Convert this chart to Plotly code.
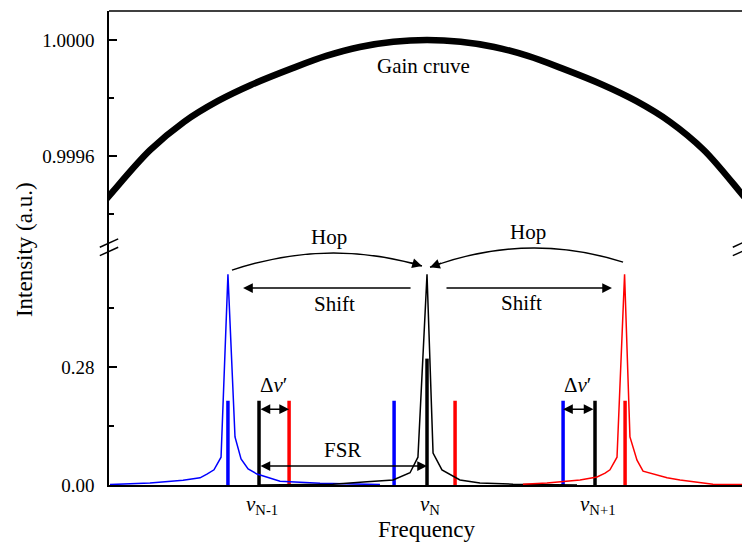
import plotly.graph_objects as go

# ---- data (frequency in units of the FSR, nu_N at 0) ----
gain_freq = [-1.95, -1.887, -1.649, -1.446, -1.244, -1.048, -0.8, -0.6, -0.4, -0.2, 0.0,
             0.2, 0.4, 0.6, 0.8, 1.048, 1.244, 1.446, 1.649, 1.887, 1.95]
gain_val = [0.999424, 0.999466, 0.999620, 0.999718, 0.999790, 0.999845, 0.999903, 0.999945,
            0.999976, 0.999994, 1.000000, 0.999994, 0.999976, 0.999945, 0.999903, 0.999845,
            0.999790, 0.999718, 0.999620, 0.999460, 0.999418]

blue_freq = [-1.887, -1.649, -1.452, -1.351, -1.310, -1.268, -1.226, -1.185, -1.143, -1.107,
             -1.065, -1.012, -0.875, -0.637, -0.280]
blue_val = [0.001, 0.005, 0.011, 0.017, 0.026, 0.036, 0.066, 0.500, 0.114, 0.062,
            0.038, 0.026, 0.009, 0.004, 0.001]

black_freq = [-1.006, -0.560, -0.357, -0.202, -0.101, -0.054, 0.000, 0.036, 0.089, 0.196,
              0.315, 0.512, 0.893]
black_val = [0.000, 0.002, 0.008, 0.012, 0.029, 0.066, 0.500, 0.076, 0.036, 0.012,
             0.005, 0.002, 0.000]

red_freq = [0.571, 0.714, 0.911, 1.012, 1.060, 1.089, 1.131, 1.176, 1.208, 1.250,
            1.286, 1.327, 1.429, 1.506, 1.702, 1.875]
red_val = [0.002, 0.005, 0.012, 0.019, 0.028, 0.036, 0.066, 0.500, 0.114, 0.059,
           0.033, 0.028, 0.017, 0.012, 0.002, 0.001]

# mode lines (frequency, height)
blue_mode_freq = [-1.185, -0.196, 0.810]
blue_mode_val = [0.20, 0.20, 0.20]
red_mode_freq = [-0.821, 0.167, 1.179]
red_mode_val = [0.20, 0.20, 0.20]
black_mode_freq = [-1.0, 0.0, 1.0]
black_mode_val = [0.20, 0.30, 0.20]
mode_labels = ["<i>ν</i><sub>N-1</sub>", "<i>ν</i><sub>N</sub>", "<i>ν</i><sub>N+1</sub>"]

low_ticks = [0.0, 0.28]
low_minor = [0.14, 0.42]
high_ticks = [0.9996, 1.0000]
high_minor = [0.9994, 0.9998]

FONT = "Liberation Serif, Times New Roman, Times, DejaVu Serif, serif"
BREAK = 0.502


def stems(xs, hs):
    px, py = [], []
    for x, h in zip(xs, hs):
        px += [x, x, None]
        py += [0, h, None]
    return px, py


fig = go.Figure()

for xs, hs, col in [(blue_mode_freq, blue_mode_val, "#0000FF"),
                    (red_mode_freq, red_mode_val, "#FF0000"),
                    (black_mode_freq, black_mode_val, "black")]:
    sx, sy = stems(xs, hs)
    fig.add_trace(go.Scatter(x=sx, y=sy, mode="lines", line=dict(color=col, width=3.5),
                             xaxis="x", yaxis="y", hoverinfo="skip"))

for xs, ys, col in [(blue_freq, blue_val, "#0000FF"),
                    (black_freq, black_val, "black"),
                    (red_freq, red_val, "#FF0000")]:
    fig.add_trace(go.Scatter(x=xs, y=ys, mode="lines", line=dict(color=col, width=1.5),
                             xaxis="x", yaxis="y"))

fig.add_trace(go.Scatter(x=gain_freq, y=gain_val, mode="lines",
                         line=dict(color="black", width=6.5, shape="spline", smoothing=1.0),
                         xaxis="x", yaxis="y2"))

ann = []
shapes = []
tf = dict(family=FONT, size=21, color="black")


def arrow(x0, x1, y, both=False):
    d = dict(x=x1, y=y, ax=x0, ay=y, xref="x", yref="y", axref="x", ayref="y",
             text="", showarrow=True, arrowhead=2, arrowsize=1.3, arrowwidth=1.5,
             arrowcolor="black")
    if both:
        d.update(arrowside="end+start", startarrowhead=2, startarrowsize=1.3)
    ann.append(d)


# Shift arrows
shift_y = 0.4675
arrow(-0.089, -1.095, shift_y)
arrow(0.107, 1.101, shift_y)
ann.append(dict(x=-0.548, y=0.4295, xref="x", yref="y", text="Shift", showarrow=False, font=tf))
ann.append(dict(x=0.565, y=0.432, xref="x", yref="y", text="Shift", showarrow=False, font=tf))

# mode spacing arrows
arrow(black_mode_freq[0], red_mode_freq[0], 0.180, both=True)
arrow(black_mode_freq[2], blue_mode_freq[2], 0.180, both=True)
arrow(black_mode_freq[0], black_mode_freq[1], 0.045, both=True)
ann.append(dict(x=-0.916, y=0.237, xref="x", yref="y", text="Δ<i>ν</i>′", showarrow=False, font=tf))
ann.append(dict(x=0.893, y=0.237, xref="x", yref="y", text="Δ<i>ν</i>′", showarrow=False, font=tf))
ann.append(dict(x=-0.506, y=0.083, xref="x", yref="y", text="FSR", showarrow=False, font=tf))

# Hop arcs (quadratic curves) with arrowheads at their ends
hops = [((-1.161, 0.510), (-0.595, 0.586), (-0.030, 0.5197), 0.5505),
        ((1.167, 0.529), (0.595, 0.6016), (0.018, 0.517), 0.5624)]
for (sx0, sy0), (cx, cy), (ex, ey), top in hops:
    shapes.append(dict(type="path", xref="x", yref="y",
                       path=f"M {sx0},{sy0} Q {cx},{cy} {ex},{ey}",
                       line=dict(color="black", width=1.5)))
    t = 0.13
    ann.append(dict(x=ex, y=ey, ax=ex + t * (cx - ex), ay=ey + t * (cy - ey),
                    xref="x", yref="y", axref="x", ayref="y", text="", showarrow=True,
                    arrowhead=2, arrowsize=1.3, arrowwidth=1.5, arrowcolor="black"))
    ann.append(dict(x=(sx0 + ex) / 2 + 0.01, y=top, yshift=16, xref="x", yref="y",
                    text="Hop", showarrow=False, font=tf))

# mode frequency labels
for x, lab in zip(black_mode_freq, mode_labels):
    ann.append(dict(x=x + 0.02, y=0, yshift=-20, xref="x", yref="y", text=lab,
                    showarrow=False, font=dict(family=FONT, size=21, color="black")))

ann.append(dict(x=-0.018, y=0.99991, xref="x", yref="y2", text="Gain cruve",
                showarrow=False, font=tf))
ann.append(dict(x=0.0, y=0, yshift=-44, xref="x", yref="y", text="Frequency",
                showarrow=False, font=dict(family=FONT, size=23, color="black")))
ann.append(dict(x=-0.1325, y=0.4958, xref="paper", yref="paper", text="Intensity (a.u.)",
                xanchor="center", yanchor="middle",
                textangle=-90, showarrow=False, font=dict(family=FONT, size=23, color="black")))

# frame top and axis break marks
shapes.append(dict(type="line", xref="paper", yref="paper", x0=0, x1=1, y0=1, y1=1,
                   line=dict(color="black", width=1.5)))
for xc in (0.0, 1.0):
    for yc in (BREAK + 0.0085, BREAK - 0.0093):
        shapes.append(dict(type="line", xref="paper", yref="paper",
                           x0=xc - 0.0145, x1=xc + 0.0145, y0=yc - 0.0088, y1=yc + 0.0088,
                           line=dict(color="black", width=1.5)))

axis_common = dict(showline=True, linecolor="black", linewidth=1.5, showgrid=False,
                   zeroline=False, ticks="inside", ticklen=8, tickwidth=1.5, tickcolor="black",
                   tickfont=dict(family=FONT, size=19, color="black"), ticklabelstandoff=9)

fig.update_layout(
    width=742, height=545,
    margin=dict(l=109, r=0, t=11, b=60),
    plot_bgcolor="white", paper_bgcolor="white",
    showlegend=False,
    font=dict(family=FONT),
    xaxis=dict(range=[-1.893, 1.875], showline=True, linecolor="black", linewidth=1.5,
               showticklabels=False, ticks="", showgrid=False, zeroline=False, anchor="y"),
    yaxis=dict(domain=[0, BREAK], range=[0, 0.5648], tickvals=low_ticks, tickformat=".2f",
               minor=dict(tickvals=low_minor, ticks="inside", ticklen=5, tickwidth=1.5,
                          tickcolor="black", showgrid=False),
               anchor="x", **axis_common),
    yaxis2=dict(domain=[BREAK, 1], range=[0.999286, 1.0001], tickvals=high_ticks,
                tickformat=".4f",
                minor=dict(tickvals=high_minor, ticks="inside", ticklen=5, tickwidth=1.5,
                           tickcolor="black", showgrid=False),
                anchor="x", **axis_common),
    annotations=ann,
    shapes=shapes,
)

fig.write_html("out.html")
